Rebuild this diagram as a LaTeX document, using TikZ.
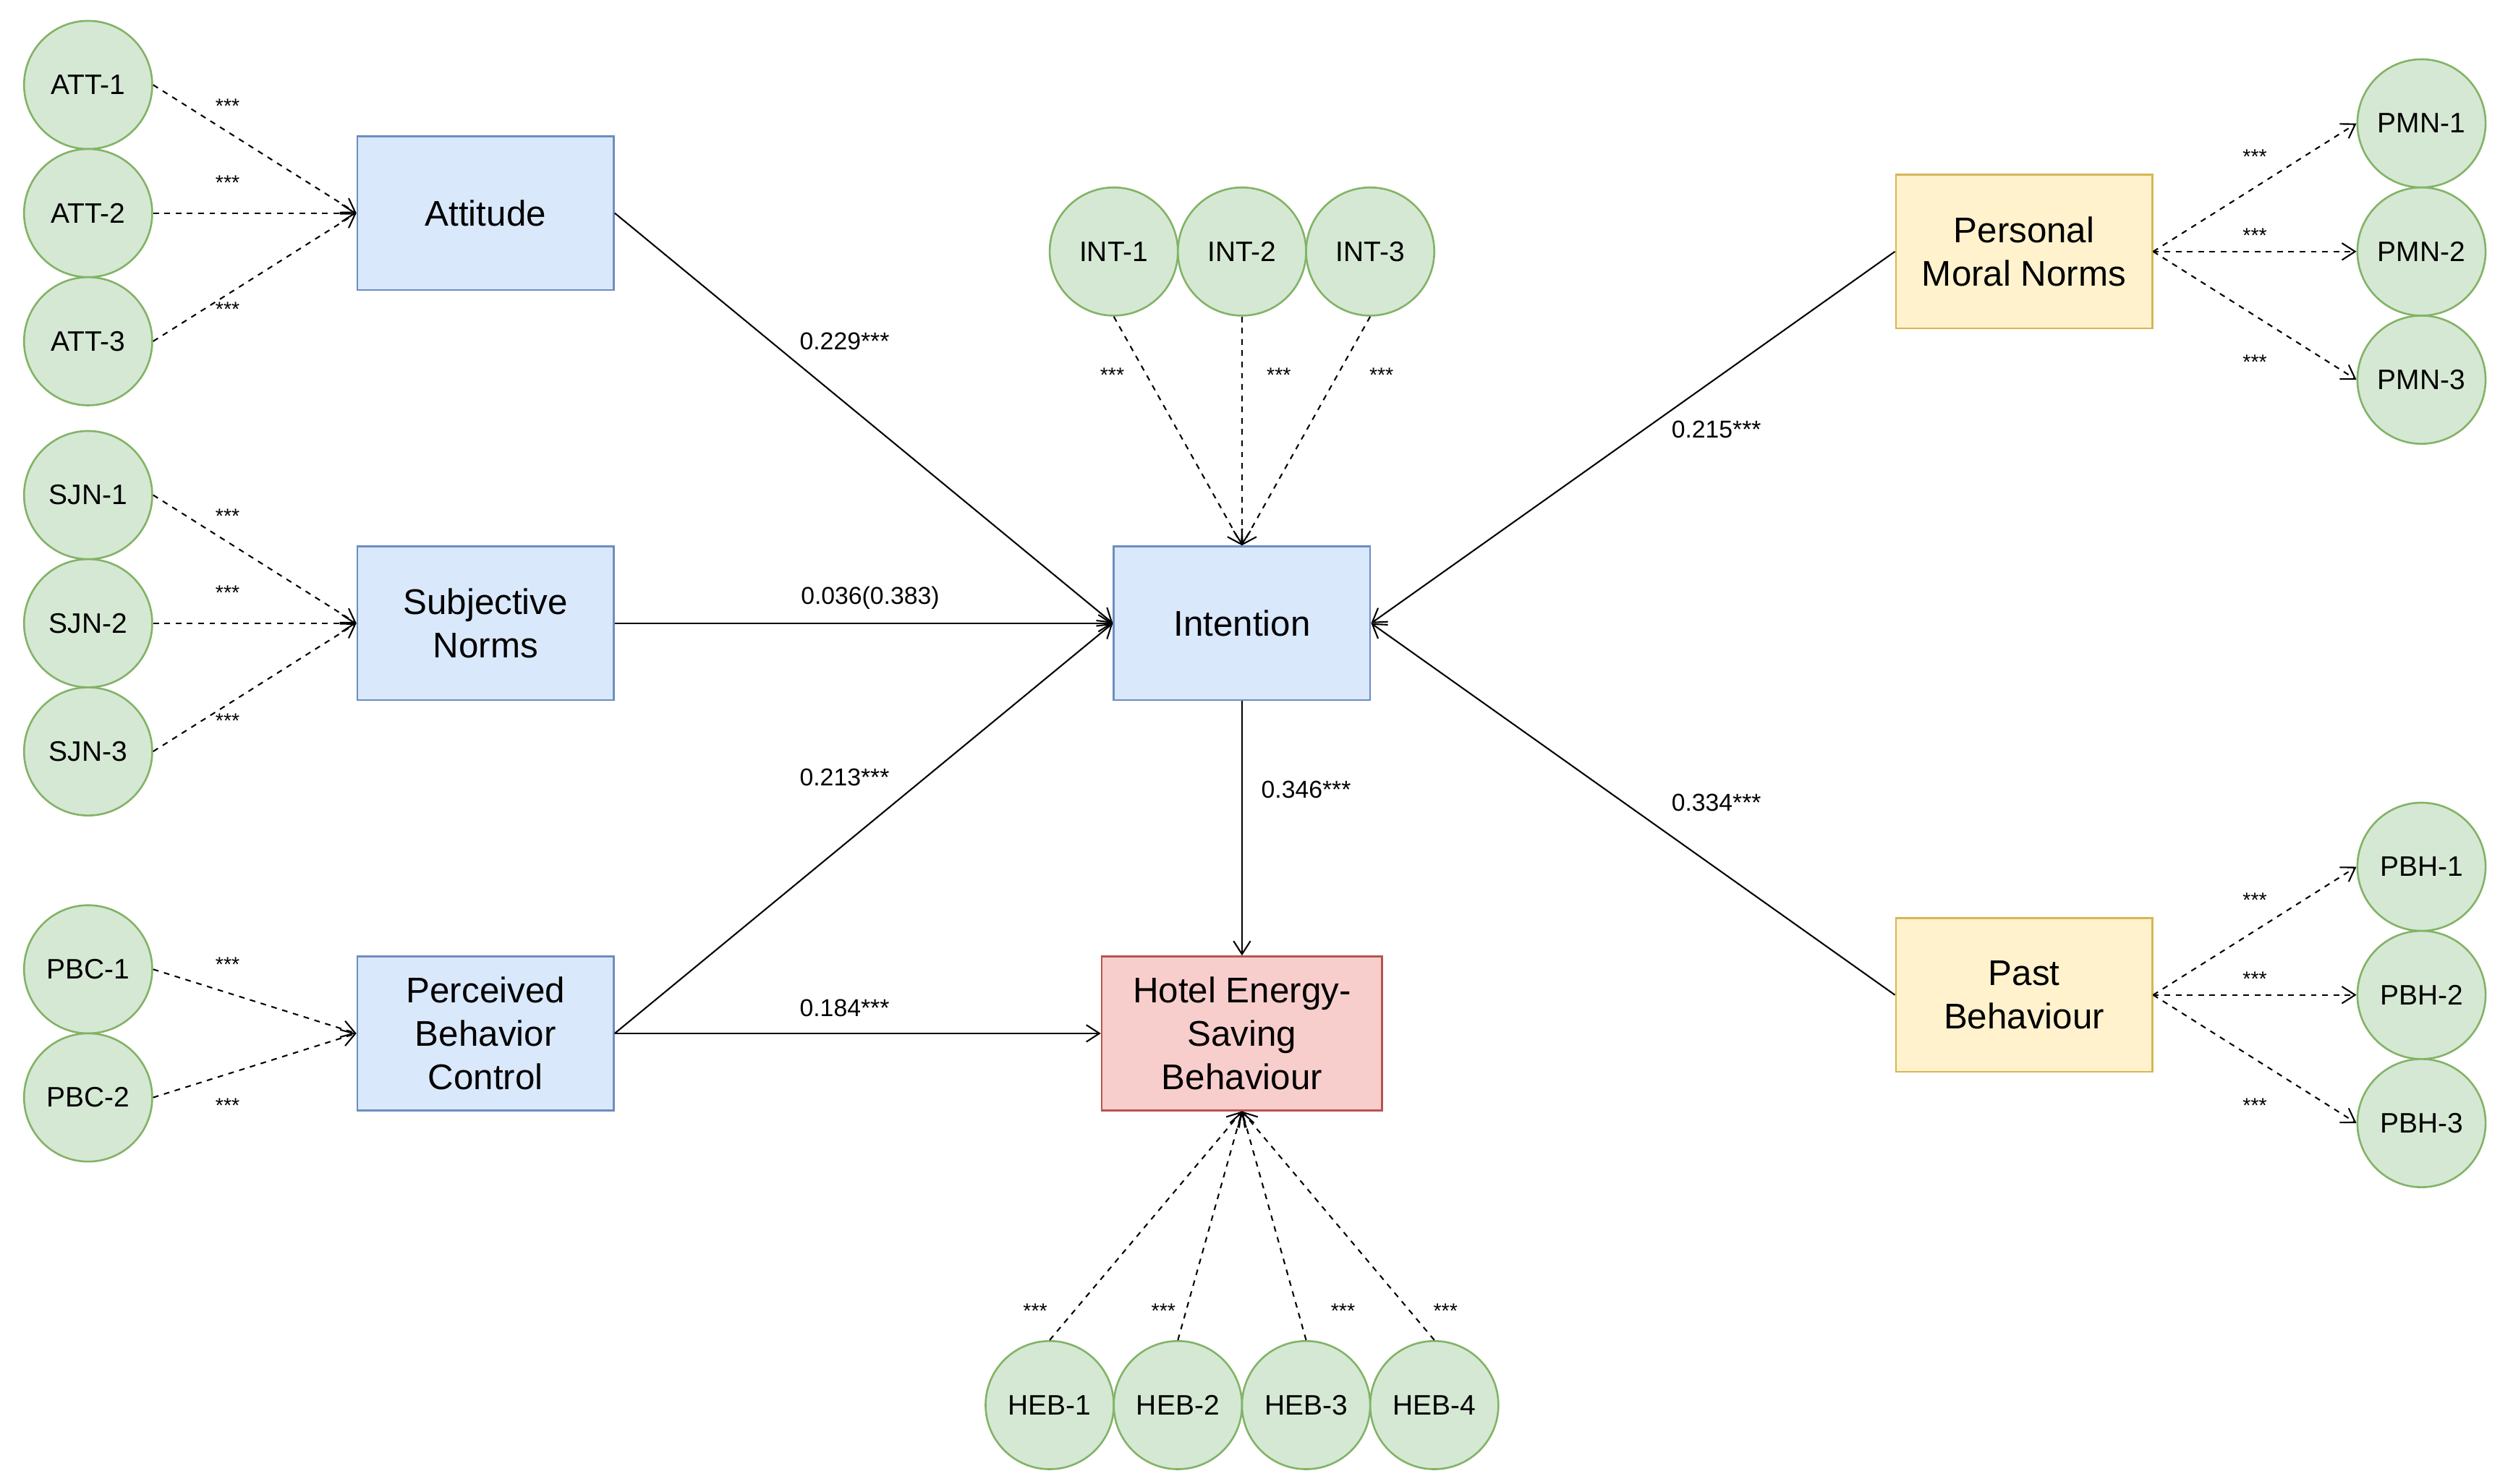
\documentclass[tikz,border=0pt]{standalone}
\usepackage{fontspec}
\setmainfont{Liberation Sans}
\usetikzlibrary{arrows.meta}
\definecolor{bf}{HTML}{DAE8FC}\definecolor{bs}{HTML}{6C8EBF}
\definecolor{gf}{HTML}{D5E8D4}\definecolor{gs}{HTML}{82B366}
\definecolor{yf}{HTML}{FFF2CC}\definecolor{ys}{HTML}{D6B656}
\definecolor{rf}{HTML}{F8CECC}\definecolor{rs}{HTML}{B85450}
\begin{document}
\begin{tikzpicture}[x=0.03cm,y=-0.03cm,
 ind/.style={circle,draw=gs,fill=gf,line width=1pt,minimum size=80*0.03cm,inner sep=0pt,font=\fontsize{15}{17}\selectfont},
 box/.style={draw=#1s,fill=#1f,line width=1pt,minimum width=160*0.03cm,minimum height=96*0.03cm,align=center,inner sep=1pt,font=\fontsize{19}{23}\selectfont},
 ms/.style={dashed,line width=0.8pt,-{Straight Barb[length=7pt,width=9pt]}},
 st/.style={line width=0.8pt,-{Straight Barb[length=7pt,width=9pt]}},
 lab/.style={font=\fontsize{13}{15}\selectfont},
 star/.style={font=\fontsize{11}{13}\selectfont}]
\useasboundingbox (0,0) rectangle (1560,926);
\node[box=b] (att) at (303,133) {Attitude};
\node[box=b] (sjn) at (303,389) {Subjective\\Norms};
\node[box=b] (pbc) at (303,645) {Perceived\\Behavior\\Control};
\node[box=b] (int) at (775,389) {Intention};
\node[box=r,minimum width=175*0.03cm] (heb) at (775,645) {Hotel Energy-\\Saving\\Behaviour};
\node[box=y] (pmn) at (1263,157) {Personal\\Moral Norms};
\node[box=y] (pbh) at (1263,621) {Past\\Behaviour};
\foreach \i/\y in {1/53,2/133,3/213}{\node[ind] (ATT\i) at (55,\y) {ATT-\i}; \draw[ms] (ATT\i.east) -- (att.west);}
\foreach \i/\y in {1/309,2/389,3/469}{\node[ind] (SJN\i) at (55,\y) {SJN-\i}; \draw[ms] (SJN\i.east) -- (sjn.west);}
\foreach \i/\y in {1/605,2/685}{\node[ind] (PBC\i) at (55,\y) {PBC-\i}; \draw[ms] (PBC\i.east) -- (pbc.west);}
\foreach \i/\x in {1/695,2/775,3/855}{\node[ind] (INT\i) at (\x,157) {INT-\i}; \draw[ms] (INT\i.south) -- (int.north);}
\foreach \i/\x in {1/655,2/735,3/815,4/895}{\node[ind] (HEB\i) at (\x,877) {HEB-\i}; \draw[ms] (HEB\i.north) -- (heb.south);}
\foreach \i/\y in {1/77,2/157,3/237}{\node[ind] (PMN\i) at (1511,\y) {PMN-\i}; \draw[ms] (pmn.east) -- (PMN\i.west);}
\foreach \i/\y in {1/541,2/621,3/701}{\node[ind] (PBH\i) at (1511,\y) {PBH-\i}; \draw[ms] (pbh.east) -- (PBH\i.west);}
\draw[st] (att.east) -- (int.west);
\draw[st] (sjn.east) -- (int.west);
\draw[st] (pbc.east) -- (int.west);
\draw[st] (pbc.east) -- (heb.west);
\draw[st] (int.south) -- (heb.north);
\draw[st] (pmn.west) -- (int.east);
\draw[st] (pbh.west) -- (int.east);
\node[lab] (l1) at (527,213) {0.229***};
\node[lab] (l2) at (543,373) {0.036(0.383)};
\node[lab] (l3) at (527,485) {0.213***};
\node[lab] (l4) at (527,629) {0.184***};
\node[lab] (l5) at (815,493) {0.346***};
\node[lab] (l6) at (1071,268) {0.215***};
\node[lab] (l7) at (1071,501) {0.334***};
\foreach \x/\y [count=\k] in {142/66,142/114,142/193,142/322,142/370,142/450,142/602,142/690,694/234,798/234,862/234,646/818,726/818,838/818,902/818,1407/98,1407/147,1407/226,1407/562,1407/611,1407/690}
 \node[star] (s\k) at (\x,\y) {***};
\end{tikzpicture}
\end{document}
